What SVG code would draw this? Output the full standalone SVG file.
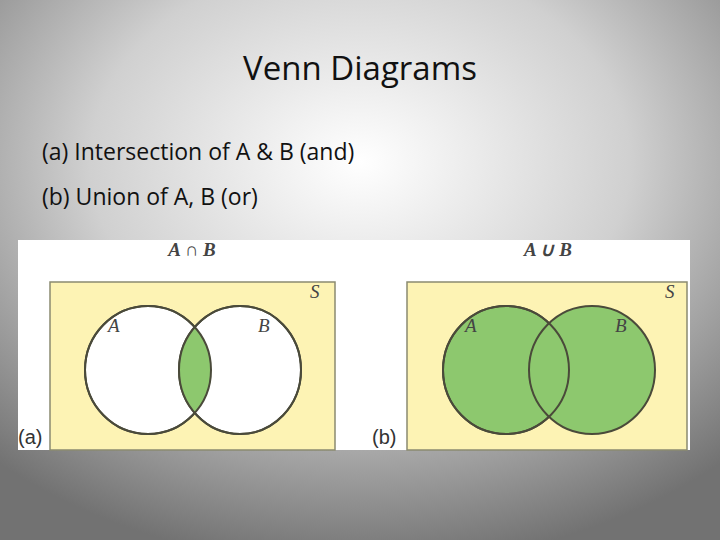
<svg xmlns="http://www.w3.org/2000/svg" width="720" height="540" viewBox="0 0 720 540">
<defs>
<radialGradient id="bg" cx="0.5" cy="0.3" r="0.75">
<stop offset="0" stop-color="#ffffff"/><stop offset="0.5" stop-color="#d0d0d0"/><stop offset="1" stop-color="#727272"/>
</radialGradient>
<style>
.t{font-family:"Open Sans","Liberation Sans",sans-serif;fill:#111}
.m{font-family:"Liberation Serif",serif;font-style:italic;fill:#444;font-size:19px}
.c{stroke:#4a4a3a;stroke-width:2}
.box{fill:#fdf3b4;stroke:#8a8a70;stroke-width:1.5}
</style>
</defs>
<rect width="720" height="540" fill="url(#bg)"/>
<text class="t" x="360" y="80" font-size="33" text-anchor="middle">Venn Diagrams</text>
<text class="t" x="42" y="160" font-size="23">(a) Intersection of A &amp; B (and)</text>
<text class="t" x="42" y="205" font-size="23">(b) Union of A, B (or)</text>
<rect x="18" y="240" width="672" height="210" fill="#fff"/>
<g id="a">
<rect class="box" x="50" y="282" width="285" height="168"/>
<clipPath id="ca"><ellipse cx="148" cy="370" rx="63" ry="64"/></clipPath>
<ellipse cx="148" cy="370" rx="63" ry="64" fill="#fff" class="c"/>
<ellipse cx="240" cy="370" rx="61" ry="64" fill="#fff" class="c"/>
<ellipse cx="240" cy="370" rx="61" ry="64" fill="#8dc86e" clip-path="url(#ca)"/>
<ellipse cx="148" cy="370" rx="63" ry="64" fill="none" class="c"/>
<ellipse cx="240" cy="370" rx="61" ry="64" fill="none" class="c"/>
<text class="m" x="192" y="256" text-anchor="middle" font-weight="bold">A ∩ B</text>
<text class="m" x="310" y="298">S</text>
<text class="m" x="108" y="332">A</text>
<text class="m" x="258" y="332">B</text>
<text x="18" y="444" font-family="Liberation Sans,sans-serif" font-size="20" fill="#333">(a)</text>
</g>
<g id="b">
<rect class="box" x="407" y="282" width="280" height="168"/>
<ellipse cx="506" cy="370" rx="63" ry="64" fill="#8dc86e" class="c"/>
<ellipse cx="592" cy="370" rx="63" ry="64" fill="#8dc86e" class="c"/>
<ellipse cx="506" cy="370" rx="63" ry="64" fill="none" class="c"/>
<text class="m" x="548" y="256" text-anchor="middle" font-weight="bold">A ∪ B</text>
<text class="m" x="665" y="298">S</text>
<text class="m" x="465" y="332">A</text>
<text class="m" x="615" y="332">B</text>
<text x="372" y="444" font-family="Liberation Sans,sans-serif" font-size="20" fill="#333">(b)</text>
</g>
<g id="connectors"/>
</svg>
